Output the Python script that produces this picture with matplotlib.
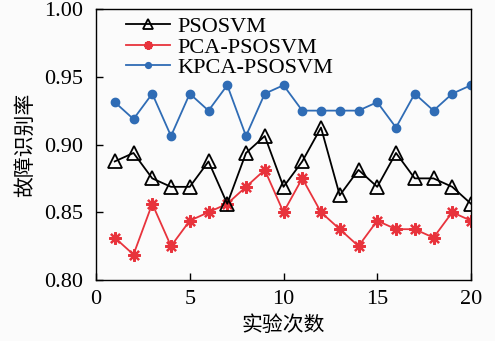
import matplotlib
matplotlib.use("Agg")
import matplotlib.pyplot as plt

x = list(range(1, 21))
psosvm = [0.8875, 0.89375, 0.875, 0.86875, 0.86875, 0.8875, 0.85625, 0.89375, 0.90625, 0.86875,
          0.8875, 0.9125, 0.8625, 0.88125, 0.86875, 0.89375, 0.875, 0.875, 0.86875, 0.85625]
pca_psosvm = [0.83125, 0.81875, 0.85625, 0.825, 0.84375, 0.85, 0.85625, 0.86875, 0.88125, 0.85,
              0.875, 0.85, 0.8375, 0.825, 0.84375, 0.8375, 0.8375, 0.83125, 0.85, 0.84375]
kpca_psosvm = [0.93125, 0.91875, 0.9375, 0.90625, 0.9375, 0.925, 0.94375, 0.90625, 0.9375, 0.94375,
               0.925, 0.925, 0.925, 0.925, 0.93125, 0.9125, 0.9375, 0.925, 0.9375, 0.94375]
labels = ["PSOSVM", "PCA-PSOSVM", "KPCA-PSOSVM"]
xticks = [0, 5, 10, 15, 20]
yticks = [0.80, 0.85, 0.90, 0.95, 1.00]

plt.rcParams['font.family'] = ['Liberation Serif', 'Noto Sans CJK SC']

fig = plt.figure(figsize=(4.95, 3.41), dpi=100)
fig.patch.set_facecolor('#fbfbfb')
ax = fig.add_axes([96/495, 1-280/341, (471-96)/495, (280-9)/341])
ax.set_facecolor('#fbfbfb')

ax.plot(x, psosvm, color='black', marker='^', markersize=10, markerfacecolor='none',
        markeredgewidth=1.3, linewidth=1.3, label=labels[0], zorder=3)
ax.plot(x, pca_psosvm, color='#e8333c', marker=(8, 2, 0), markersize=9, markeredgewidth=1.6,
        linewidth=1.3, label=labels[1], zorder=2)
ax.plot(x, kpca_psosvm, color='#2f6cb5', marker='o', markersize=6, linewidth=1.3,
        label=labels[2], zorder=2)

ax.set_xlim(0, 20)
ax.set_ylim(0.80, 1.00)
ax.set_xticks(xticks)
ax.set_yticks(yticks)
ax.set_xticklabels([str(v) for v in xticks])
ax.set_yticklabels([f"{v:.2f}" for v in yticks])
ax.tick_params(direction='in', labelsize=16, length=5, width=1, top=False, right=False)
ax.tick_params(axis='y', pad=9)
ax.tick_params(axis='x', pad=7)
for s in ax.spines.values():
    s.set_linewidth(1.0)

ax.set_xlabel("实验次数", family=['Noto Sans CJK SC'], fontsize=15, labelpad=4)
ax.set_ylabel("故障识别率", family=['Noto Sans CJK SC'], fontsize=15, labelpad=6)

leg = ax.legend(loc='upper left', frameon=False, fontsize=16, handlelength=2.0,
                handletextpad=0.35, labelspacing=0.0, borderaxespad=0.0, markerscale=0.7,
                bbox_to_anchor=(0.055, 1.005))

fig.savefig("out.png", dpi=100, facecolor=fig.get_facecolor())
